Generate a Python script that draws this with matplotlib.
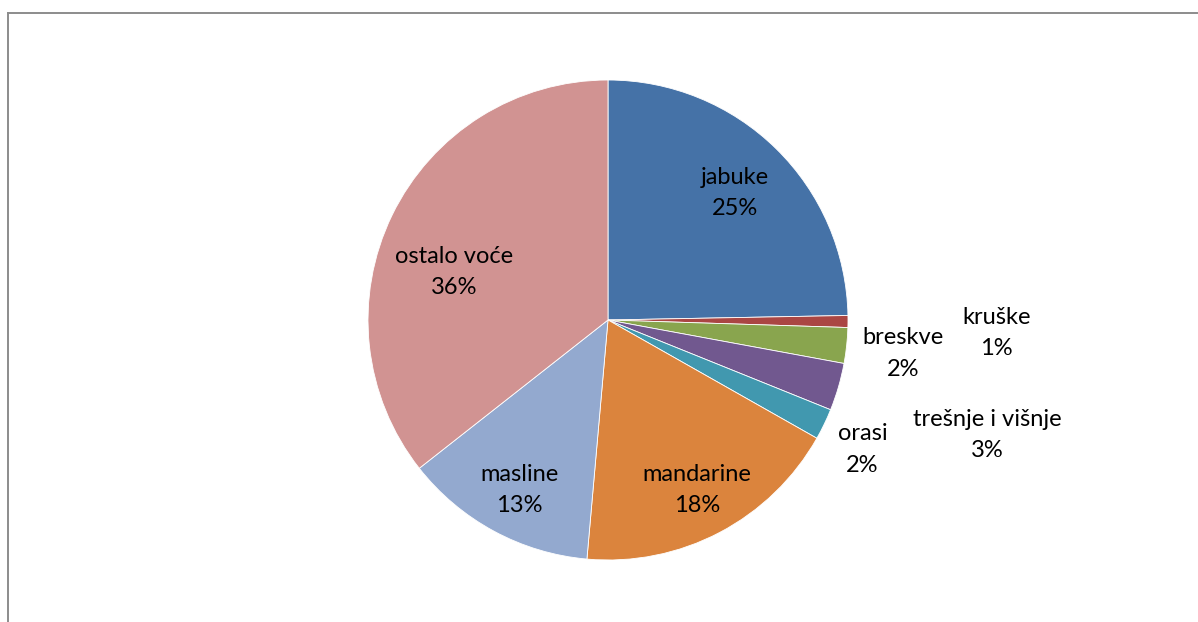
import matplotlib
matplotlib.use("Agg")
import matplotlib.pyplot as plt
from matplotlib.lines import Line2D

# Data
categories = ["jabuke", "kruške", "breskve", "trešnje i višnje", "orasi",
              "mandarine", "masline", "ostalo voće"]
values = [24.7, 0.8, 2.4, 3.2, 2.1, 18.2, 13.0, 35.6]
colors = ["#4572A7", "#AA4643", "#89A54E", "#71588F", "#4198AF",
          "#DB843D", "#93A9CF", "#D19392"]

# label centre positions in pie-radius units (centre of pie = 0,0)
label_pos = [(0.53, 0.53), (1.62, -0.055), (1.23, -0.14), (1.58, -0.48),
             (1.06, -0.54), (0.37, -0.71), (-0.37, -0.71), (-0.64, 0.20)]

W, H, DPI = 1198, 622, 100
fig = plt.figure(figsize=(W / DPI, H / DPI), dpi=DPI)
ax = fig.add_axes([0, 0, 1, 1])
cx, cy, R = 608, 320, 240
ax.axis("off")

wedges, _ = ax.pie(values, colors=colors, startangle=90, counterclock=False,
                   radius=1.0, center=(0, 0), frame=False,
                   wedgeprops=dict(edgecolor="white", linewidth=0.6))
ax.set_aspect("auto")
ax.set_xlim(-cx / R, (W - cx) / R)
ax.set_ylim(-(H - cy) / R, cy / R)

for name, v, (x, y) in zip(categories, values, label_pos):
    ax.text(x, y, f"{name}\n{round(v):d}%", ha="center", va="center",
            fontsize=17, family="Lato", color="black", linespacing=1.6)

# chart frame (left and top edges visible)
fig.add_artist(Line2D([7.5 / W, 7.5 / W], [0, 1 - 12.5 / H], color="#8c8c8c",
                      linewidth=1.4, transform=fig.transFigure))
fig.add_artist(Line2D([7.5 / W, 1 - 1 / W], [1 - 12.5 / H, 1 - 12.5 / H],
                      color="#8c8c8c", linewidth=1.4, transform=fig.transFigure))

fig.savefig("out.png", dpi=DPI)
